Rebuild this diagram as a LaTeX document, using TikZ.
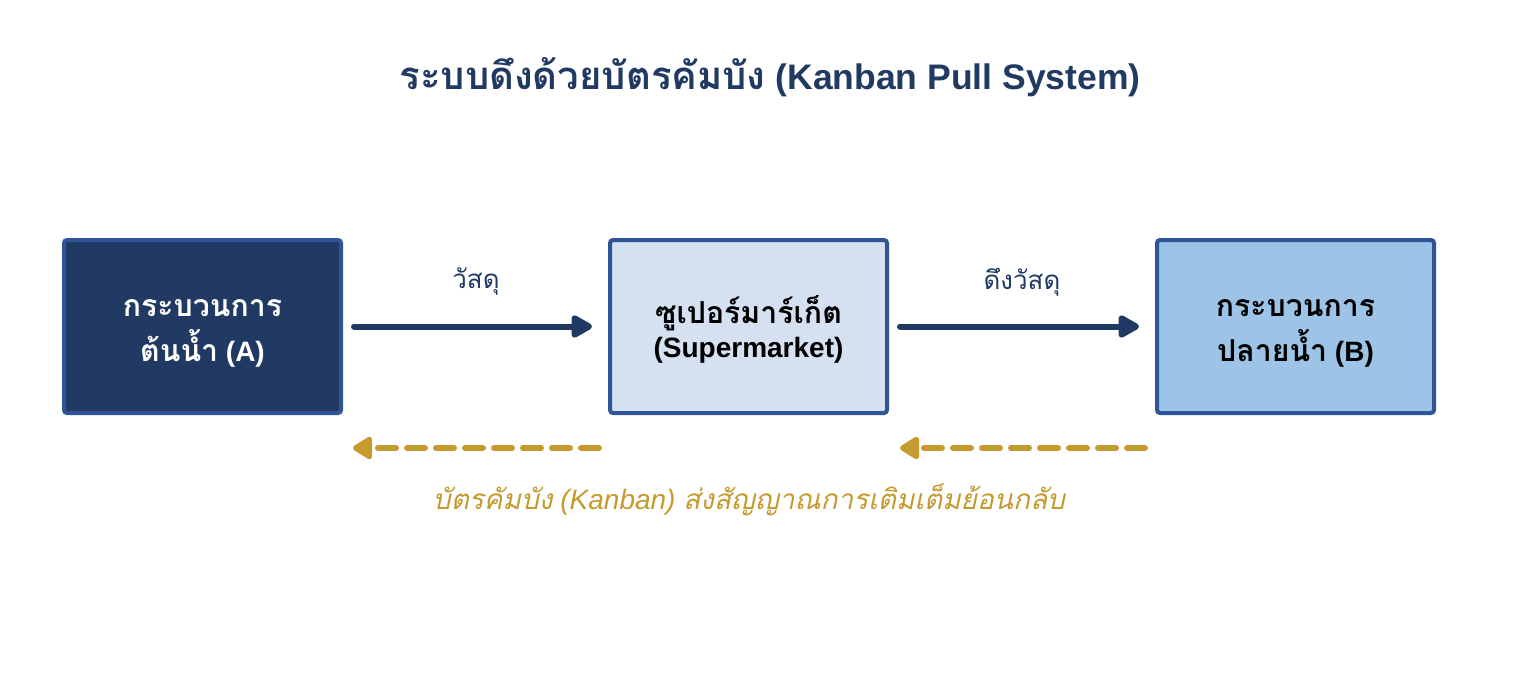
\documentclass[tikz,border=0pt]{standalone}
\usepackage{fontspec}
\setmainfont{Liberation Sans}
\newfontfamily\thaifont[Script=Thai,Scale=1.08]{Loma}
\newfontfamily\thaiplain[Script=Thai]{Loma}
\newcommand\tht[1]{{\thaifont #1}}
\newcommand\thp[1]{{\thaiplain #1}}
\usetikzlibrary{arrows.meta}
\definecolor{navy}{HTML}{213A63}
\definecolor{bordblue}{HTML}{2F5597}
\definecolor{palefill}{HTML}{D5E0F1}
\definecolor{skyfill}{HTML}{9DC3E6}
\definecolor{gold}{HTML}{C59A2E}
\tikzset{
  box/.style={draw=bordblue, line width=4pt, rounded corners=3pt, minimum width=277pt, minimum height=173pt, inner sep=0pt},
  boxtext/.style={align=center, inner sep=0pt, font=\bfseries\fontsize{28}{45}\selectfont},
  flowlabel/.style={text=navy, font=\fontsize{24}{28}\selectfont, inner sep=0pt},
  flow/.style={draw=navy, line width=6pt, line cap=round, -{Triangle[length=24pt,width=25pt,round]}},
  signal/.style={draw=gold, line width=6pt, line cap=round, dash pattern=on 18pt off 11pt, -{Triangle[length=22pt,width=25pt,round]}},
}
\begin{document}
\begin{tikzpicture}[x=1pt,y=-1pt]
\useasboundingbox (0,0) rectangle (1540,699);
\node[text=navy, font=\bfseries\fontsize{35.5}{40}\selectfont, inner sep=0pt] (title) at (770,77) {\tht{ระบบดึงด้วยบัตรคัมบัง} (Kanban Pull System)};
\node[box, fill=navy] (A) at (202.5,326.5) {};
\node[box, fill=palefill] (S) at (748.5,326.5) {};
\node[box, fill=skyfill] (B) at (1295.5,326.5) {};
\node[boxtext, text=white] (At) at ([yshift=-7pt]A.center) {\tht{กระบวนการ}\\\tht{ต้นน้ำ} (A)};
\node[boxtext, text=black, font=\bfseries\fontsize{28}{34}\selectfont] (St) at ([yshift=-3pt]S.center) {\tht{ซูเปอร์มาร์เก็ต}\\(Supermarket)};
\node[boxtext, text=black] (Bt) at ([yshift=-7pt]B.center) {\tht{กระบวนการ}\\\tht{ปลายน้ำ} (B)};
\draw[flow, shorten <=11pt, shorten >=16pt] (A.east) -- (S.west);
\draw[flow, shorten <=11pt, shorten >=16pt] (S.east) -- (B.west);
\node[flowlabel] (l1) at (476,282) {\tht{วัสดุ}};
\node[flowlabel] (l2) at (1022,282) {\tht{ดึงวัสดุ}};
\coordinate (s1) at (599,448);
\coordinate (e1) at (353,448);
\coordinate (s2) at (1145,448);
\coordinate (e2) at (900,448);
\draw[signal] (s1) -- (e1);
\draw[signal] (s2) -- (e2);
\node[text=gold, font=\itshape\fontsize{28}{32}\selectfont, inner sep=0pt] (note) at (749,500) {\thp{บัตรคัมบัง} (Kanban) \thp{ส่งสัญญาณการเติมเต็มย้อนกลับ}};
\end{tikzpicture}
\end{document}
